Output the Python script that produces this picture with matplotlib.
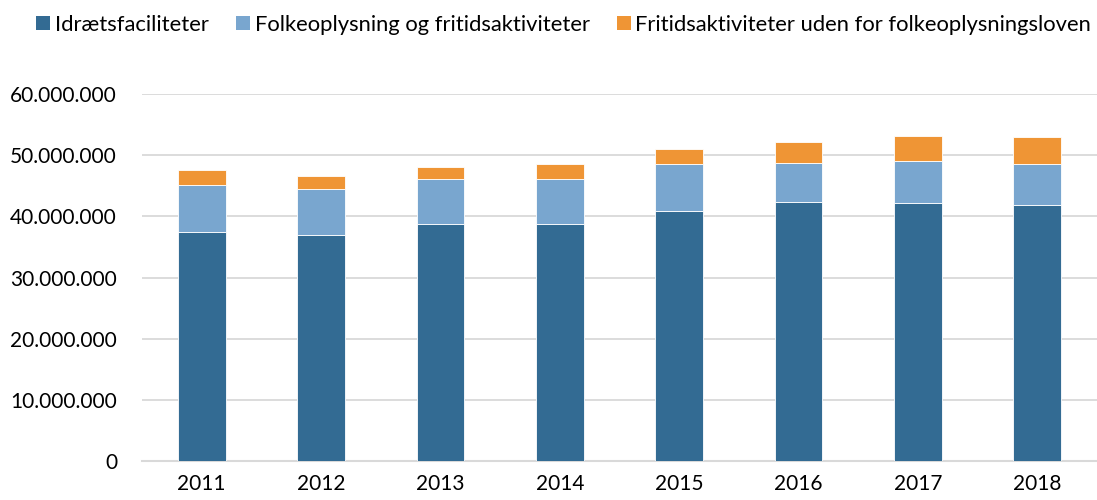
import matplotlib
matplotlib.use("Agg")
import matplotlib.pyplot as plt
from matplotlib.ticker import FuncFormatter
from matplotlib.patches import Patch

years = ["2011", "2012", "2013", "2014", "2015", "2016", "2017", "2018"]
idraet = [37.5e6, 37.0e6, 38.8e6, 38.7e6, 40.9e6, 42.3e6, 42.2e6, 41.8e6]
folkeopl = [7.65e6, 7.4e6, 7.3e6, 7.4e6, 7.6e6, 6.5e6, 6.9e6, 6.8e6]
fritid = [2.4e6, 2.17e6, 1.9e6, 2.4e6, 2.48e6, 3.3e6, 4.1e6, 4.3e6]
series_names = ["Idrætsfaciliteter", "Folkeoplysning og fritidsaktiviteter",
                "Fritidsaktiviteter uden for folkeoplysningsloven"]
colors = ["#336B93", "#79A6CF", "#EF9535"]

plt.rcParams['font.family'] = ['Lato', 'DejaVu Sans']

fig = plt.figure(figsize=(10.97, 5.0), dpi=100)
ax = fig.add_axes([142/1097, 1 - 461/500, 1 - 142/1097, (461 - 94)/500])

x = range(len(years))
bottom2 = [a + b for a, b in zip(idraet, folkeopl)]
w = 0.4
ax.bar(x, idraet, width=w, color=colors[0], edgecolor='white', linewidth=0.6, zorder=3)
ax.bar(x, folkeopl, width=w, bottom=idraet, color=colors[1], edgecolor='white', linewidth=0.6, zorder=3)
ax.bar(x, fritid, width=w, bottom=bottom2, color=colors[2], edgecolor='white', linewidth=0.6, zorder=3)

ax.set_xlim(-0.5, len(years) - 0.5)
ax.set_ylim(0, 60e6)
ax.set_yticks([0, 10e6, 20e6, 30e6, 40e6, 50e6, 60e6])
ax.yaxis.set_major_formatter(FuncFormatter(lambda v, p: f"{int(v):,}".replace(",", ".")))
ax.set_xticks(list(x))
ax.set_xticklabels(years)
ax.grid(axis='y', color='#D9D9D9', linewidth=1.3, zorder=0)
for s in ['top', 'right', 'left']:
    ax.spines[s].set_visible(False)
ax.spines['bottom'].set_color('#D9D9D9')
ax.spines['bottom'].set_linewidth(1.5)
ax.tick_params(axis='both', length=0, labelsize=15, colors='#000000')
ax.tick_params(axis='y', pad=18)
ax.tick_params(axis='x', pad=9)

handles = [Patch(facecolor=c, edgecolor='none') for c in colors]
fig.legend(handles, series_names, loc='center left', bbox_to_anchor=(36/1097, 1 - 24.7/500), ncol=3,
           frameon=False, fontsize=15.8, handlelength=0.64, handleheight=0.64,
           handletextpad=0.22, columnspacing=1.23, borderaxespad=0, borderpad=0)

fig.savefig("out.png", dpi=100)
